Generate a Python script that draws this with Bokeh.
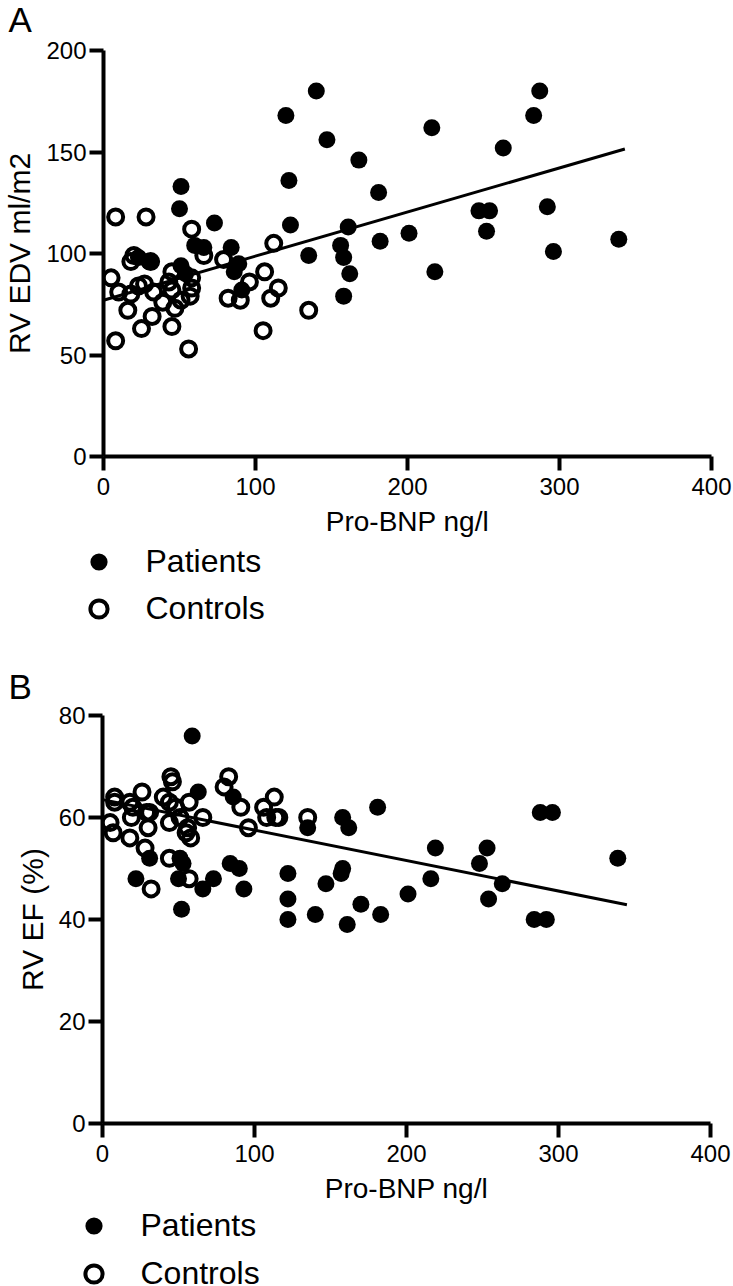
from bokeh.plotting import figure
from bokeh.models import Legend, LegendItem, FixedTicker, Range1d, Label
from bokeh.layouts import column
from bokeh.embed import file_html
from bokeh.resources import INLINE

FONT = "Liberation Sans"
W = 732

# ---------------- Panel A: RV EDV vs Pro-BNP ----------------
a_pat_x = [140, 147, 216, 263, 168, 181, 247, 254, 252, 161, 156, 158, 182, 201, 135, 162,
           218, 158, 287, 283, 292, 296, 339, 51, 50, 73, 122, 123, 60, 66, 84, 51, 89, 86,
           91, 23, 30, 120, 54]
a_pat_y = [180, 156, 162, 152, 146, 130, 121, 121, 111, 113, 104, 98, 106, 110, 99, 90,
           91, 79, 180, 168, 123, 101, 107, 133, 122, 115, 136, 114, 104, 103, 103, 94, 95, 91,
           82, 98, 96, 168, 90]
a_con_x = [8, 28, 58, 112, 79, 20, 18, 31, 5, 45, 58, 106, 96, 115, 10, 23, 27, 33, 43, 45,
           18, 58, 39, 51, 57, 82, 90, 110, 16, 47, 32, 25, 45, 135, 105, 8, 56, 66]
a_con_y = [118, 118, 112, 105, 97, 99, 96, 96, 88, 91, 88, 91, 86, 83, 81, 84, 85, 81, 86, 82,
           80, 83, 76, 77, 79, 78, 77, 78, 72, 73, 69, 63, 64, 72, 62, 57, 53, 99]
a_fit_x = [0, 343]
a_fit_y = [77, 151.5]

# ---------------- Panel B: RV EF vs Pro-BNP ----------------
b_pat_x = [59, 63, 86, 31, 51, 53, 22, 50, 66, 73, 84, 90, 93, 122, 135, 122, 158, 162, 181,
           219, 253, 248, 216, 263, 254, 158, 157, 147, 201, 170, 140, 183, 161, 288, 296,
           339, 284, 292, 122, 52]
b_pat_y = [76, 65, 64, 52, 52, 51, 48, 48, 46, 48, 51, 50, 46, 49, 58, 44, 60, 58, 62,
           54, 54, 51, 48, 47, 44, 50, 49, 47, 45, 43, 41, 41, 39, 61, 61,
           52, 40, 40, 40, 42]
b_con_x = [8, 8, 18, 26, 20, 29, 40, 45, 46, 44, 57, 48, 5, 19, 31, 44, 51, 66, 30, 7, 18,
           56, 58, 55, 28, 44, 57, 32, 83, 80, 91, 96, 113, 106, 108, 114, 116, 135]
b_con_y = [64, 63, 63, 65, 62, 61, 64, 68, 67, 63, 63, 62, 59, 60, 61, 59, 60, 60, 58, 57, 56,
           58, 56, 57, 54, 52, 48, 46, 68, 66, 62, 58, 64, 62, 60, 60, 60, 60]
b_fit_x = [0, 345]
b_fit_y = [63.5, 42.9]

x_ticks = [0, 100, 200, 300, 400]
a_y_ticks = [0, 50, 100, 150, 200]
b_y_ticks = [0, 20, 40, 60, 80]
series_names = ["Patients", "Controls"]

PAT_STYLE = dict(marker="circle", size=17, fill_color="black", line_color="black", line_width=0)
CON_STYLE = dict(marker="circle", size=15, fill_color="white", fill_alpha=0,
                 line_color="black", line_width=4)


def no_align(fig):
    if "frame_align" in fig.properties():
        fig.frame_align = False


def strip(height):
    s = figure(width=W, height=height, min_border=0, x_axis_location=None, y_axis_location=None,
               x_range=Range1d(1000, 2000), y_range=Range1d(1000, 2000),
               output_backend="svg", toolbar_location=None, title=None)
    s.grid.visible = False
    s.outline_line_color = None
    s.background_fill_color = "white"
    s.border_fill_color = "white"
    no_align(s)
    return s


def letter(s, text, y):
    s.add_layout(Label(x=8, y=y, x_units="screen", y_units="screen", text=text,
                       text_font=FONT, text_font_size="35px", text_color="black",
                       text_baseline="middle", text_align="left"))


def add_legend(s, pat_x, pat_y, con_x, con_y, loc, spacing):
    r1 = s.scatter(pat_x, pat_y, **PAT_STYLE)
    r2 = s.scatter(con_x, con_y, **CON_STYLE)
    lg = Legend(items=[LegendItem(label=series_names[0], renderers=[r1]),
                       LegendItem(label=series_names[1], renderers=[r2])],
                location=loc, orientation="vertical",
                label_text_font=FONT, label_text_font_size="32px", label_text_color="black",
                glyph_width=43, glyph_height=43, label_height=43,
                spacing=spacing, padding=0, margin=0, label_standoff=26,
                border_line_alpha=0, background_fill_alpha=0)
    s.add_layout(lg)


def main_plot(ylabel, y_end, y_ticks, pat_x, pat_y, con_x, con_y, fit_x, fit_y, frame_h, bottom):
    p = figure(frame_width=608, frame_height=frame_h, min_border_left=102, min_border_right=22,
               min_border_top=14, min_border_bottom=bottom,
               x_range=Range1d(0, 400), y_range=Range1d(0, y_end),
               output_backend="svg", toolbar_location=None, title=None)
    p.grid.visible = False
    p.outline_line_color = None
    p.background_fill_color = "white"
    p.border_fill_color = "white"
    no_align(p)
    for ax in (p.xaxis[0], p.yaxis[0]):
        ax.axis_line_width = 4
        ax.axis_line_color = "black"
        ax.major_tick_line_width = 4
        ax.major_tick_line_color = "black"
        ax.major_tick_out = 14
        ax.major_tick_in = 0
        ax.minor_tick_out = 0
        ax.minor_tick_in = 0
        ax.major_label_text_font = FONT
        ax.major_label_text_font_size = "24px"
        ax.major_label_text_color = "black"
        ax.axis_label_text_font = FONT
        ax.axis_label_text_font_style = "normal"
        ax.axis_label_text_color = "black"
    p.xaxis.axis_label_text_font_size = "28px"
    p.yaxis.axis_label_text_font_size = "30px"
    p.xaxis.ticker = FixedTicker(ticks=x_ticks)
    p.yaxis.ticker = FixedTicker(ticks=y_ticks)
    p.xaxis.axis_label = "Pro-BNP ng/l"
    p.yaxis.axis_label = ylabel
    p.xaxis.major_label_standoff = 7
    p.yaxis.major_label_standoff = 3
    p.xaxis.axis_label_standoff = 8
    p.yaxis.axis_label_standoff = 7
    p.scatter(pat_x, pat_y, **PAT_STYLE)
    p.scatter(con_x, con_y, **CON_STYLE)
    p.line(fit_x, fit_y, line_width=3, line_color="black")
    return p


s0 = strip(36)
letter(s0, "A", 17)

pA = main_plot("RV EDV ml/m2", 200, a_y_ticks, a_pat_x, a_pat_y, a_con_x, a_con_y,
               a_fit_x, a_fit_y, frame_h=406, bottom=89)

s1 = strip(156)
add_legend(s1, a_pat_x, a_pat_y, a_con_x, a_con_y, (76.5, 71.5), 4)
letter(s1, "B", 15)

pB = main_plot("RV EF (%)", 80, b_y_ticks, b_pat_x, b_pat_y, b_con_x, b_con_y,
               b_fit_x, b_fit_y, frame_h=408, bottom=88)

s2 = strip(74)
add_legend(s2, b_pat_x, b_pat_y, b_con_x, b_con_y, (71.5, -9.5), 5)

layout = column(s0, pA, s1, pB, s2, spacing=0)
open("out.html", "w").write(file_html(layout, INLINE))
